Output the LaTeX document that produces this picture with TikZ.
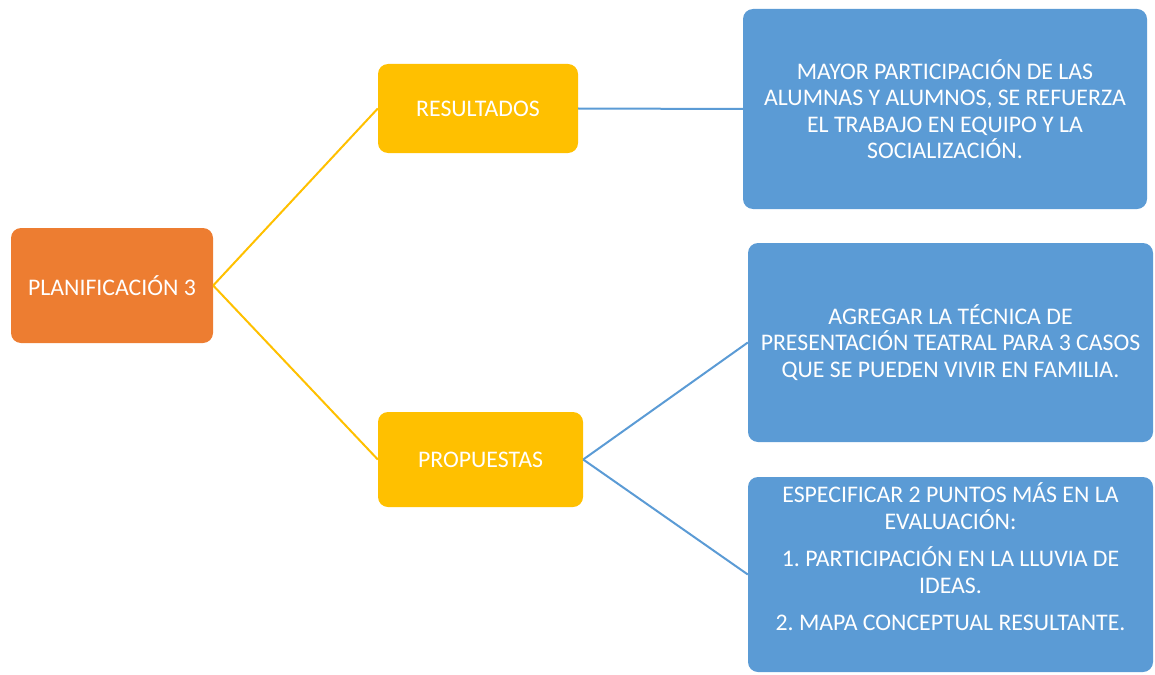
\documentclass[tikz,border=0pt]{standalone}
\usepackage{fontspec}
\setmainfont{Carlito}
\frenchspacing
\definecolor{naranja}{HTML}{ED7D31}
\definecolor{amarillo}{HTML}{FFC000}
\definecolor{azul}{HTML}{5B9BD5}
\tikzset{
    caja/.style = {rounded corners = 10pt, text = white, align = center, font = \fontsize{23.8}{26.5}\selectfont},
    ramaA/.style = {draw = amarillo, line width = 2pt},
    ramaB/.style = {draw = azul, line width = 2pt}
}
\begin{document}
\begin{tikzpicture}[x = 1pt, y = -1pt]
        \useasboundingbox (0, 0) rectangle (1155, 674);
        \node [caja, fill = naranja, minimum width = 202pt, minimum height = 115pt] (plan) at (112, 285.5) {PLANIFICACIÓN 3};
        \node [caja, fill = amarillo, minimum width = 200pt, minimum height = 89pt] (res) at (478, 108.5) {RESULTADOS};
        \node [caja, fill = amarillo, minimum width = 205pt, minimum height = 95pt] (prop) at (480.5, 459.5) {PROPUESTAS};
        \node [caja, fill = azul, minimum width = 404pt, minimum height = 200pt] (mayor) at (945, 109) {MAYOR PARTICIPACIÓN DE LAS\\ ALUMNAS Y ALUMNOS, SE REFUERZA\\ EL TRABAJO EN EQUIPO Y LA\\ SOCIALIZACIÓN.};
        \node [caja, fill = azul, minimum width = 405pt, minimum height = 199pt] (tecnica) at (950.5, 342.5) {AGREGAR LA TÉCNICA DE\\ PRESENTACIÓN TEATRAL PARA 3 CASOS\\ QUE SE PUEDEN VIVIR EN FAMILIA.};
        \node [caja, fill = azul, minimum width = 405pt, minimum height = 195pt] (eval) at (950.5, 574.5) {};
        \node [caja] (evaltxt) at (950.5, 557) {ESPECIFICAR 2 PUNTOS MÁS EN LA\\ EVALUACIÓN:\\[11pt] 1. PARTICIPACIÓN EN LA LLUVIA DE\\ IDEAS.\\[11pt] 2. MAPA CONCEPTUAL RESULTANTE.};
        \draw [ramaA] (plan.east) -- (res.west);
        \draw [ramaA] (plan.east) -- (prop.west);
        \draw [ramaB] (res.east) -- (mayor.west);
        \draw [ramaB] (prop.east) -- (tecnica.west);
        \draw [ramaB] (prop.east) -- (eval.west);
\end{tikzpicture}
\end{document}
